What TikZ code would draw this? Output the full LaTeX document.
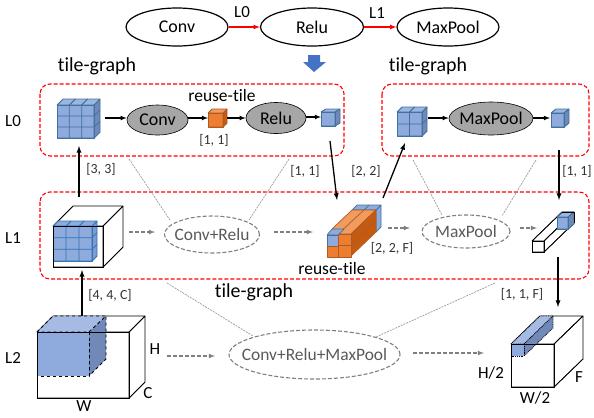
\documentclass[tikz,border=0pt]{standalone}
\usepackage{fontspec}
\setmainfont[Ligatures=NoCommon]{Carlito}
\usetikzlibrary{shapes.geometric}
\definecolor{tileblue}{HTML}{8FAADC}
\definecolor{tileblueedge}{HTML}{41719C}
\definecolor{tilebluetop}{HTML}{9DB5E2}
\definecolor{tileblueside}{HTML}{7089B8}
\definecolor{tilegrid}{HTML}{8FAADC}
\definecolor{tilegridedge}{HTML}{2E75B6}
\definecolor{tilegridtop}{HTML}{8FAADC}
\definecolor{tilegridside}{HTML}{7F9AD0}
\definecolor{tileorange}{HTML}{ED7D31}
\definecolor{tileorangeedge}{HTML}{AE5A21}
\definecolor{tileorangetop}{HTML}{F19B5E}
\definecolor{tileorangeside}{HTML}{C55A11}
\definecolor{tilewhite}{HTML}{FFFFFF}
\definecolor{tilewhiteedge}{HTML}{000000}
\definecolor{tilewhitetop}{HTML}{FFFFFF}
\definecolor{tilewhiteside}{HTML}{FFFFFF}
\definecolor{grayink}{HTML}{7F7F7F}
\definecolor{graytext}{HTML}{595959}
\definecolor{blockblue}{HTML}{4472C4}
% x y w h dx dy nx ny, (x,y) is top left of the front face
\newcommand{\tilecube}[9][tileblue]{%
  \draw[#1edge,fill=#1top,line width=.7pt] (#2,#3) -- ({#2+#6},{#3-#7}) -- ({#2+#4+#6},{#3-#7}) -- ({#2+#4},#3) -- cycle;
  \draw[#1edge,fill=#1side,line width=.7pt] ({#2+#4},#3) -- ({#2+#4+#6},{#3-#7}) -- ({#2+#4+#6},{#3+#5-#7}) -- ({#2+#4},{#3+#5}) -- cycle;
  \draw[#1edge,fill=#1,line width=.7pt] (#2,#3) rectangle ({#2+#4},{#3+#5});
  \foreach \i in {1,...,#8} {
    \draw[#1edge,line width=.7pt] ({#2+#4*\i/#8},{#3+#5}) -- ({#2+#4*\i/#8},#3) -- ({#2+#4*\i/#8+#6},{#3-#7});
    \draw[#1edge,line width=.7pt] ({#2+#4*(\i-1)/#8},#3) -- ({#2+#4*(\i-1)/#8+#6},{#3-#7});
  }
  \foreach \j in {1,...,#9} {
    \draw[#1edge,line width=.7pt] (#2,{#3+#5*\j/#9}) -- ({#2+#4},{#3+#5*\j/#9}) -- ({#2+#4+#6},{#3+#5*\j/#9-#7});
  }
}
% keeps an ellipse at its minimum size
\newcommand{\optext}[1]{\makebox[0pt]{#1}}
\tikzset{
  opnode/.style={draw=black,ellipse,line width=1.2pt,inner sep=0pt,font=\fontsize{18}{21}\selectfont},
  tilenode/.style={draw=black,fill=black!35,ellipse,line width=.6pt,inner sep=0pt,font=\fontsize{18}{21}\selectfont},
  groupnode/.style={draw=grayink,dash pattern=on 4pt off 2pt,ellipse,line width=1.1pt,inner sep=0pt,text=graytext,font=\fontsize{17.5}{20}\selectfont},
  tilegraph/.style={draw=red,dash pattern=on 4pt off 2pt,line width=1.1pt,rounded corners=10pt},
  graphlabel/.style={inner sep=0pt,font=\fontsize{20}{23}\selectfont},
  levellabel/.style={inner sep=0pt,font=\fontsize{17}{20}\selectfont},
  reuselabel/.style={inner sep=0pt,font=\fontsize{17.5}{20}\selectfont},
  sizelabel/.style={inner sep=0pt,text=black!80,font=\fontsize{14}{17}\selectfont},
  redge/.style={red,->,line width=1.2pt},
  bedge/.style={black,->,line width=1.1pt},
  tedge/.style={black,->,line width=1.3pt},
  gedge/.style={grayink,->,dash pattern=on 4pt off 2pt,line width=1.1pt},
  lnk/.style={black!40,dash pattern=on 2pt off 1pt,line width=.7pt},
}
\begin{document}
\begin{tikzpicture}[>=latex,line join=bevel,x=1bp,y=-1bp]
\useasboundingbox (0,0) rectangle (594,417);
%%
% operator graph on top
\node (node_conv) at (177,27) [opnode,minimum width=102bp,minimum height=38bp] {\optext{Conv}};
\node (node_relu) at (312,27) [opnode,minimum width=103bp,minimum height=38bp] {\optext{Relu}};
\node (node_maxpool) at (448,27) [opnode,minimum width=102bp,minimum height=38bp] {\optext{MaxPool}};
\draw [redge] (node_conv) -- (node_relu);
\draw [redge] (node_relu) -- (node_maxpool);
\node (lbl_e0) at (242,12) [levellabel] {L0};
\node (lbl_e1) at (377,13) [levellabel] {L1};
\fill [blockblue] (308,55) -- (320,55) -- (320,62) -- (326,62) -- (314,72) -- (303,62) -- (308,62) -- cycle;
%
% red groups
\draw [tilegraph] (40,84) rectangle (344,156);
\draw [tilegraph] (382,84) rectangle (589,156);
\draw [tilegraph] (40,192) rectangle (589,279);
\node (lbl_g0) at (97,66) [graphlabel] {tile-graph};
\node (lbl_g1) at (428,66) [graphlabel] {tile-graph};
\node (lbl_g2) at (254,292) [graphlabel] {tile-graph};
\node (lbl_l0) at (13,121) [levellabel] {L0};
\node (lbl_l1) at (13,238) [levellabel] {L1};
\node (lbl_l2) at (13,358) [levellabel] {L2};
%
% level 0
\tilecube{57}{105}{37}{33}{6}{6}{3}{3}
\tilecube[tileorange]{208}{113}{15}{14}{4}{4}{1}{1}
\tilecube{321}{112}{14}{14}{5}{3}{1}{1}
\tilecube{397}{112}{25}{24}{5}{5}{2}{2}
\tilecube{551}{113}{13}{14}{5}{4}{1}{1}
\coordinate (c_in0) at (105,118);
\coordinate (c_orange_l) at (208,118);
\coordinate (c_orange_r) at (227,118);
\coordinate (c_blue0) at (321,117);
\coordinate (c_in1) at (428,118);
\coordinate (c_blue1) at (550,118);
\node (tile_conv) at (157.5,120) [tilenode,minimum width=61bp,minimum height=30bp] {\optext{Conv}};
\node (tile_relu) at (276,118) [tilenode,minimum width=60bp,minimum height=31bp] {\optext{Relu}};
\node (tile_maxpool) at (491,118.5) [tilenode,minimum width=84bp,minimum height=33bp] {\optext{MaxPool}};
\draw [bedge] (c_in0) -- (tile_conv.west |- c_in0);
\draw [bedge] (tile_conv.east |- c_orange_l) -- (c_orange_l);
\draw [bedge] (c_orange_r) -- (tile_relu.west |- c_orange_r);
\draw [bedge] (tile_relu.east |- c_blue0) -- (c_blue0);
\draw [bedge] (c_in1) -- (tile_maxpool.west |- c_in1);
\draw [bedge] (tile_maxpool.east |- c_blue1) -- (c_blue1);
\node (lbl_reuse0) at (222,96) [reuselabel] {reuse-tile};
\node (lbl_s11) at (214,140) [sizelabel] {[1, 1]};
%
% level 1, left cube
\tilecube[tilewhite]{53}{226}{50}{41}{20}{20}{1}{1}
\tilecube[tilegrid]{53}{226}{39}{35}{5}{5}{3}{3}
\draw [black,line width=.8pt] (53,226) rectangle (103,267);
% level 1, orange stack
\fill [tileblue,draw=tileblueedge,line width=.7pt] (376,210) -- (381,205) -- (381,227) -- (376,232) -- cycle;
\draw [tileblueedge,fill=tileblue,line width=.7pt] (352,210) -- (357,205) -- (381,205) -- (376,210) -- cycle;
\draw [tileblueedge,line width=.7pt] (364,210) -- (369,205);
\draw [tileorangeedge,fill=tileorangetop,line width=.7pt] (332,229) -- (352,210) -- (376,210) -- (351,234) -- (338,234) -- cycle;
\draw [tileorangeedge,line width=.7pt] (338,234) -- (364,210);
\draw [tileorangeedge,fill=tileorangeside,line width=.7pt] (351,234) -- (376,210) -- (376,232) -- (351,256) -- cycle;
\draw [tileorangeedge,line width=.7pt] (351,245) -- (376,221);
\draw [tileblueedge,fill=tileblue,line width=.7pt] (327,235) -- (332,229) -- (344,229) -- (338,235) -- cycle;
\draw [tileblueedge,fill=tileblue,line width=.7pt] (327,235) rectangle (338,246);
\draw [tileorangeedge,fill=tileorange,line width=.7pt] (327,246) rectangle (338,257);
\draw [tileorangeedge,fill=tileorange,line width=.7pt] (338,234) rectangle (351,245);
\draw [tileorangeedge,fill=tileorange,line width=.7pt] (338,245) rectangle (351,257);
% level 1, thin box
\tilecube[tilewhite]{532}{241}{12}{11}{30}{29}{1}{1}
\tilecube{557}{217}{11}{12}{6}{5}{1}{1}
\draw [black,line width=.8pt] (562,212) -- (574,212) -- (574,223);
\node (group_convrelu) at (212,234.5) [groupnode,minimum width=95bp,minimum height=37bp] {\optext{Conv+Relu}};
\node (group_maxpool) at (466,231.5) [groupnode,minimum width=88bp,minimum height=33bp] {\optext{MaxPool}};
\coordinate (c_g0) at (129,232);
\coordinate (c_g1) at (155,232);
\coordinate (c_g2) at (274,232);
\coordinate (c_g3) at (313,232);
\coordinate (c_g4) at (388,228);
\coordinate (c_g5) at (410,228);
\coordinate (c_g6) at (520,228);
\coordinate (c_g7) at (537,228);
\draw [gedge] (c_g0) -- (c_g1);
\draw [gedge] (c_g2) -- (c_g3);
\draw [gedge] (c_g4) -- (c_g5);
\draw [gedge] (c_g6) -- (c_g7);
\node (lbl_reuse1) at (332,269) [reuselabel] {reuse-tile};
\node (lbl_s22f) at (392,248) [sizelabel] {[2, 2, F]};
%
% level 2, left cube
\tilecube[tilewhite]{37}{332}{92}{66}{16}{16}{1}{1}
\draw [black,dashed,fill=tileblue!80!white,line width=.8pt] (37,332) -- (53,316) -- (106,316) -- (89,332) -- cycle;
\draw [black,dashed,fill=tileblueside,line width=.8pt] (89,332) -- (106,316) -- (106,359) -- (89,376) -- cycle;
\draw [black,dashed,fill=tileblue,line width=.8pt] (37,332) rectangle (89,376);
\draw [black,line width=.8pt] (37,376) -- (37,332) -- (129,332);
% level 2, right cube
\tilecube[tilewhite]{511}{344}{43}{43}{29}{28}{1}{1}
\draw [black,densely dotted,fill=tileblue!80!white,line width=.8pt] (511,344) -- (540,316) -- (553,316) -- (524,344) -- cycle;
\draw [black,densely dotted,fill=tileblueside,line width=.8pt] (524,344) -- (553,316) -- (553,328) -- (524,356) -- cycle;
\draw [black,densely dotted,fill=tileblue,line width=.8pt] (511,344) rectangle (524,356);
\draw [black,line width=.8pt] (511,356) -- (511,344) -- (554,344);
\node (group_all) at (314.5,354.5) [groupnode,minimum width=171bp,minimum height=49bp] {\optext{Conv+Relu+MaxPool}};
\coordinate (c_g8) at (167,356);
\coordinate (c_g9) at (215,356);
\coordinate (c_g10) at (413,353);
\coordinate (c_g11) at (484,353);
\draw [gedge] (c_g8) -- (c_g9);
\draw [gedge] (c_g10) -- (c_g11);
\node (lbl_h) at (155,349) [levellabel] {H};
\node (lbl_c) at (148,393) [levellabel] {C};
\node (lbl_w) at (84,406.5) [levellabel] {W};
\node (lbl_h2) at (491,373) [levellabel] {H/2};
\node (lbl_f) at (579,377) [levellabel] {F};
\node (lbl_w2) at (535,398) [levellabel] {W/2};
%
% between the levels
\coordinate (c_a0) at (79,197);
\coordinate (c_a1) at (79,146);
\coordinate (c_a2) at (330,141);
\coordinate (c_a3) at (337,200);
\coordinate (c_a4) at (383,198);
\coordinate (c_a5) at (405,143);
\coordinate (c_a6) at (559,150);
\coordinate (c_a7) at (559,200);
\coordinate (c_a8) at (82,316);
\coordinate (c_a9) at (82,270);
\coordinate (c_a10) at (558,257);
\coordinate (c_a11) at (558,307);
\draw [tedge] (c_a0) -- (c_a1);
\draw [tedge] (c_a2) -- (c_a3);
\draw [tedge] (c_a4) -- (c_a5);
\draw [tedge] (c_a6) -- (c_a7);
\draw [tedge] (c_a8) -- (c_a9);
\draw [tedge] (c_a10) -- (c_a11);
\node (lbl_s33) at (101,169) [sizelabel] {[3, 3]};
\node (lbl_s11a) at (305,171) [sizelabel] {[1, 1]};
\node (lbl_s22) at (366,171) [sizelabel] {[2, 2]};
\node (lbl_s11b) at (577,171) [sizelabel] {[1, 1]};
\node (lbl_s44c) at (110,295) [sizelabel] {[4, 4, C]};
\node (lbl_s11f) at (522,294) [sizelabel] {[1, 1, F]};
%
% thin links between the levels
\coordinate (c_k0) at (129,159);
\coordinate (c_k1) at (170,220);
\coordinate (c_k2) at (289,159);
\coordinate (c_k3) at (249,220);
\coordinate (c_k4) at (413,160);
\coordinate (c_k5) at (442,215);
\coordinate (c_k6) at (536,160);
\coordinate (c_k7) at (502,216);
\coordinate (c_k8) at (167,283);
\coordinate (c_k9) at (253,336);
\coordinate (c_k10) at (495,283);
\coordinate (c_k11) at (376,337);
\draw [lnk] (c_k0) -- (c_k1);
\draw [lnk] (c_k2) -- (c_k3);
\draw [lnk] (c_k4) -- (c_k5);
\draw [lnk] (c_k6) -- (c_k7);
\draw [lnk] (c_k8) -- (c_k9);
\draw [lnk] (c_k10) -- (c_k11);
%
\end{tikzpicture}
\end{document}
